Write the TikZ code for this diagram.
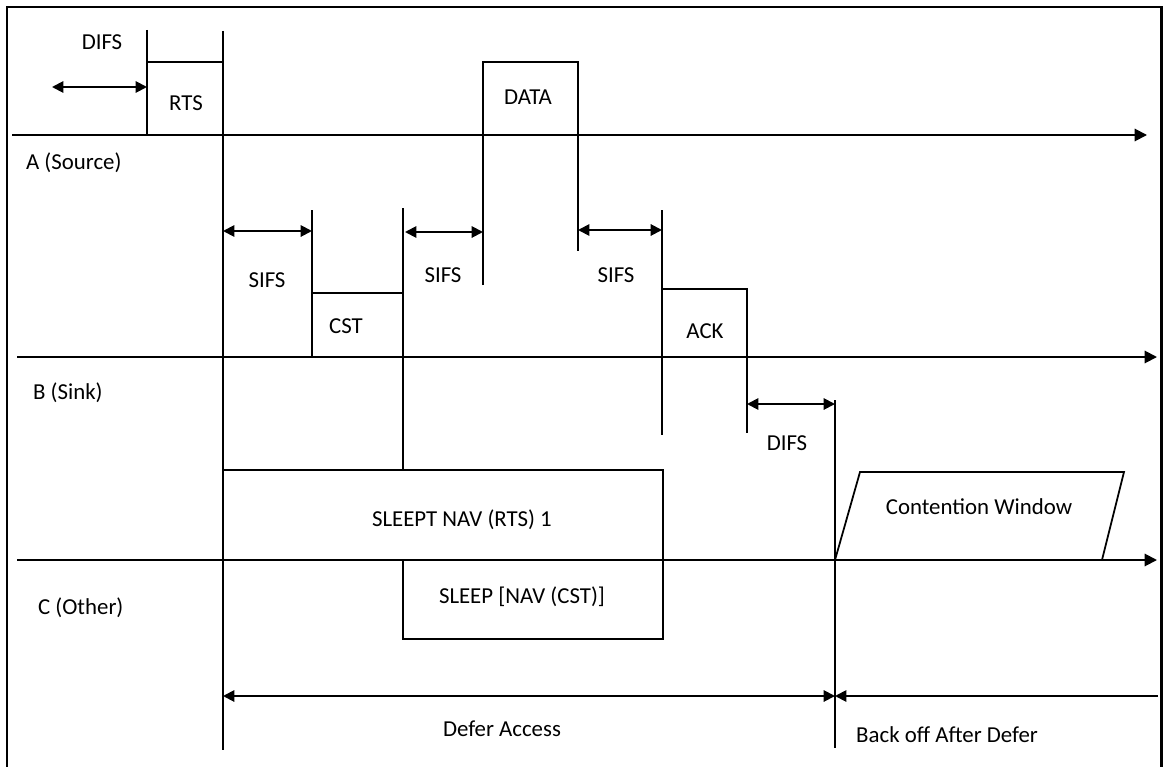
\documentclass[tikz,border=0pt]{standalone}
\usepackage{fontspec}
\setmainfont{Carlito}
\usetikzlibrary{arrows.meta}

\begin{document}
\begin{tikzpicture}[x=0.02cm, y=-0.02cm,
  every node/.style={font=\fontsize{13}{15}\selectfont, inner sep=1pt},
  timeline/.style={line width=1.1pt, -{Triangle[length=7pt,width=7pt]}},
  tick/.style={line width=1pt},
  span/.style={line width=1.1pt,
               {Triangle[length=6.5pt,width=6.5pt]}-{Triangle[length=6.5pt,width=6.5pt]}},
  oneway/.style={line width=1.1pt, -{Triangle[length=6.5pt,width=6.5pt]}}
]
\useasboundingbox (0,0) rectangle (1163,767);
\draw[line width=1.7pt] (7,790) -- (7,7) -- (1161,7) -- (1161,790);

% stations
\coordinate (srcL) at (12,135);  \coordinate (srcR) at (1147,135);
\coordinate (snkL) at (17,357);  \coordinate (snkR) at (1157,357);
\coordinate (othL) at (17,560);  \coordinate (othR) at (1157,560);
\draw[timeline] (srcL) -- (srcR);
\draw[timeline] (snkL) -- (snkR);
\draw[timeline] (othL) -- (othR);
\node[anchor=west] (src) at (24,163) {A (Source)};
\node[anchor=west] (snk) at (31,393) {B (Sink)};
\node[anchor=west] (oth) at (36,608) {C (Other)};

% frames
\draw[tick] (147,30) -- (147,135);
\draw[tick] (147,62) -- (223,62);
\draw[tick] (223,31) -- (223,750);
\draw[tick] (312,210) -- (312,357);
\draw[tick] (312,293) -- (403,293);
\draw[tick] (403,208) -- (403,470);
\draw[tick] (483,285) -- (483,62) -- (578,62) -- (578,251);
\draw[tick] (662,210) -- (662,435);
\draw[tick] (662,289) -- (747,289) -- (747,433);
\draw[tick] (835,400) -- (835,748);
\draw[tick] (223,470) rectangle (663,560);
\draw[tick] (403,560) rectangle (663,639);
\draw[tick] (835,560) -- (860,472) -- (1124,472) -- (1102,560);

\node (rts)  at (186,103) {RTS};
\node (cst)  at (346,326) {CST};
\node (data) at (528,97)  {DATA};
\node (ack)  at (705,331) {ACK};
\node (nav1) at (462,520) {SLEEPT NAV (RTS) 1};
\node (nav2) at (522,597) {SLEEP [NAV (CST)]};
\node (cw)   at (979,507) {Contention Window};

% gaps
\coordinate (d1a) at (52,87);   \coordinate (d1b) at (147,87);
\coordinate (s1a) at (223,231); \coordinate (s1b) at (312,231);
\coordinate (s2a) at (405,232); \coordinate (s2b) at (483,232);
\coordinate (s3a) at (578,230); \coordinate (s3b) at (662,230);
\coordinate (d2a) at (747,404); \coordinate (d2b) at (835,404);
\draw[span] (d1a) -- (d1b);
\draw[span] (s1a) -- (s1b);
\draw[span] (s2a) -- (s2b);
\draw[span] (s3a) -- (s3b);
\draw[span] (d2a) -- (d2b);
\node (difs1) at (102,42)  {DIFS};
\node (sifs1) at (267,280) {SIFS};
\node (sifs2) at (443,275) {SIFS};
\node (sifs3) at (616,275) {SIFS};
\node (difs2) at (787,443) {DIFS};

% defer / backoff
\coordinate (dfA) at (223,696); \coordinate (dfB) at (835,696);
\coordinate (boR) at (1158,696);
\draw[span] (dfA) -- (dfB);
\draw[oneway] (boR) -- (dfB);
\node (defer) at (502,729) {Defer Access};
\node (back)  at (947,735) {Back off After Defer};
\end{tikzpicture}
\end{document}
